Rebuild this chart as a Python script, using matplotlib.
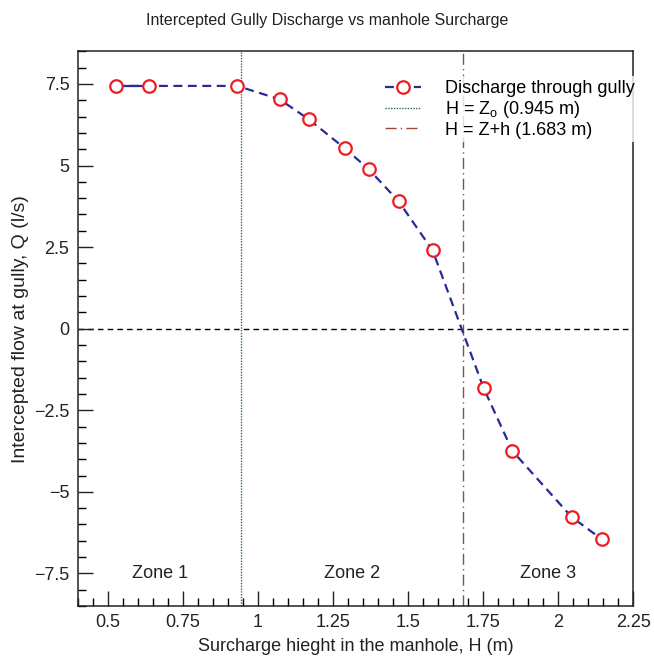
import matplotlib.pyplot as plt
from matplotlib.ticker import MultipleLocator

plt.rcParams['font.family'] = ['Liberation Sans', 'DejaVu Sans']
plt.rcParams['mathtext.fontset'] = 'custom'
plt.rcParams['mathtext.rm'] = 'Liberation Sans'
plt.rcParams['axes.unicode_minus'] = True
plt.rcParams['xtick.top'] = False
plt.rcParams['ytick.right'] = False

# Data
H = [0.526, 0.637, 0.931, 1.072, 1.169, 1.289, 1.369, 1.469, 1.582, 1.752, 1.848, 2.045, 2.145]
Q = [7.44, 7.44, 7.44, 7.03, 6.42, 5.53, 4.89, 3.90, 2.40, -1.82, -3.75, -5.77, -6.45]
H_zo = 0.945
H_zh = 1.683
zone_names = ['Zone 1', 'Zone 2', 'Zone 3']
x_lim = (0.4, 2.25)
y_lim = (-8.5, 8.5)

fig = plt.figure(figsize=(6.54, 6.58), dpi=100)
ax = fig.add_axes([0.119, 0.079, 0.849, 0.843])

# zero line
ax.axhline(0, color='black', linestyle=(0, (4, 3)), linewidth=1.0, zorder=1)

# vertical lines
ax.axvline(H_zo, color='#2f6e55', linestyle=(0, (1, 1)), linewidth=1.0,
           label='H = Z$_\\mathrm{o}$ (0.945 m)', zorder=1)
ax.axvline(H_zh, color='#9c4a33', linestyle=(0, (8, 3, 1, 3)), linewidth=1.0,
           label='H = Z+h (1.683 m)', zorder=1)

# discharge curve
ax.plot(H[:2], Q[:2], color='#2a2a96', linewidth=1.6, zorder=2)
ax.plot(H, Q, color='#2a2a96', linestyle=(0, (4, 2.5)), linewidth=1.6,
        marker='o', markersize=9, markerfacecolor='white',
        markeredgecolor='#ee1c24', markeredgewidth=1.6,
        label='Discharge through gully', zorder=3)

# zone labels
bounds = [x_lim[0], H_zo, H_zh, x_lim[1]]
for i, name in enumerate(zone_names):
    ax.text((bounds[i] + bounds[i + 1]) / 2, -7.5, name, ha='center', va='center',
            fontsize=13, color='#222222')

ax.set_xlim(*x_lim)
ax.set_ylim(*y_lim)
ax.xaxis.set_major_locator(MultipleLocator(0.25))
ax.xaxis.set_minor_locator(MultipleLocator(0.05))
ax.yaxis.set_major_locator(MultipleLocator(2.5))
ax.yaxis.set_minor_locator(MultipleLocator(0.5))
ax.xaxis.set_major_formatter(plt.FuncFormatter(lambda v, p: f'{v:g}'))
ax.yaxis.set_major_formatter(plt.FuncFormatter(lambda v, p: f'{v:g}'.replace('-', '\u2212')))
ax.tick_params(which='major', direction='in', length=11, width=1.0, labelsize=13,
               colors='#222222', pad=6)
ax.tick_params(which='minor', direction='in', length=6, width=1.0)
ax.tick_params(which='both', top=False, right=False, labeltop=False, labelright=False)
for s in ax.spines.values():
    s.set_linewidth(1.1)
    s.set_color('#222222')

ax.set_xlabel('Surcharge hieght in the manhole, H (m)', fontsize=13, color='#222222', labelpad=5)
ax.set_ylabel('Intercepted flow at gully, Q (l/s)', fontsize=14, color='#222222', labelpad=4)
fig.suptitle('Intercepted Gully Discharge vs manhole Surcharge', fontsize=11.5, y=0.98,
             color='#222222')

handles, labels = ax.get_legend_handles_labels()
order = [2, 0, 1]
leg = ax.legend([handles[i] for i in order], [labels[i] for i in order], loc='upper left',
                bbox_to_anchor=(0.531, 0.971), frameon=True, fontsize=13,
                handlelength=2.0, handletextpad=1.3, labelspacing=0.1,
                borderpad=0.2, fancybox=False)
leg.get_frame().set_facecolor('white')
leg.get_frame().set_edgecolor('none')

fig.savefig('out.png', dpi=100)
